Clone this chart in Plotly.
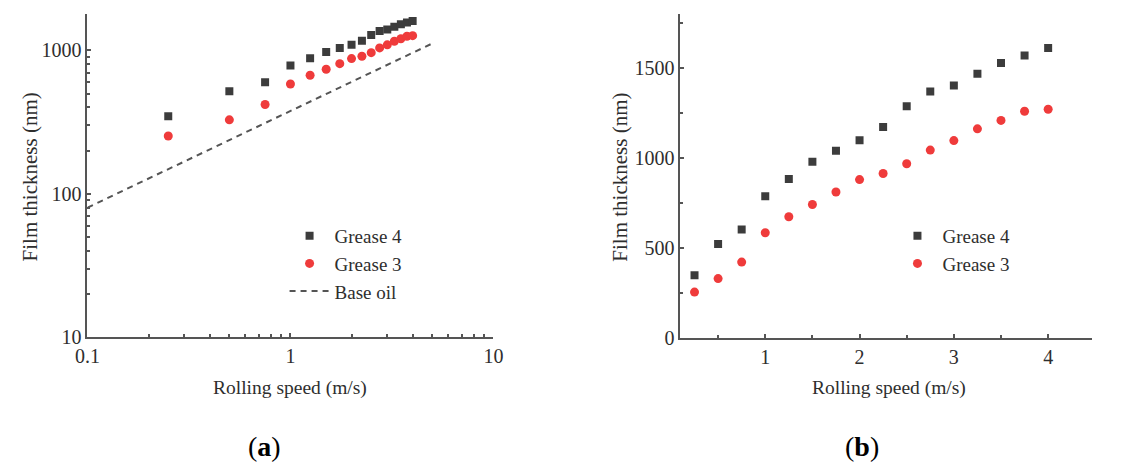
import plotly.graph_objects as go

W, H = 1126, 473

# Rolling speed (m/s)
speed = [0.25, 0.5, 0.75, 1.0, 1.25, 1.5, 1.75, 2.0, 2.25, 2.5, 2.75, 3.0, 3.25, 3.5, 3.75, 4.0]
# Film thickness (nm)
grease4 = [347, 520, 601, 785, 882, 977, 1039, 1097, 1171, 1285, 1368, 1401, 1466, 1526, 1567, 1609]
grease3 = [253, 328, 420, 583, 672, 740, 809, 878, 912, 966, 1042, 1095, 1160, 1207, 1258, 1269]
# Base oil reference line (log-log)
base_speed = [0.1, 5.0]
base_film = [80, 1120]

FONT = "Liberation Serif"
TXT = "#2e2e2e"
AX = "#555555"
SQ = "#3c3c3c"
RED = "#ef3b3b"


def px_x(p):
    return p / W


def px_y(p):
    return 1 - p / H


fig = go.Figure()

# (a) log-log panel
fig.add_trace(go.Scatter(x=speed, y=grease4, mode="markers", name="Grease 4",
                         marker=dict(symbol="square", size=8, color=SQ),
                         xaxis="x", yaxis="y", legend="legend"))
fig.add_trace(go.Scatter(x=speed, y=grease3, mode="markers", name="Grease 3",
                         marker=dict(symbol="circle", size=9, color=RED),
                         xaxis="x", yaxis="y", legend="legend"))
fig.add_trace(go.Scatter(x=base_speed, y=base_film, mode="lines", name="Base oil",
                         line=dict(color="#555555", width=2, dash="6px,5px"),
                         xaxis="x", yaxis="y", legend="legend"))

# (b) linear panel
fig.add_trace(go.Scatter(x=speed, y=grease4, mode="markers", name="Grease 4",
                         marker=dict(symbol="square", size=8, color=SQ),
                         xaxis="x2", yaxis="y2", legend="legend2"))
fig.add_trace(go.Scatter(x=speed, y=grease3, mode="markers", name="Grease 3",
                         marker=dict(symbol="circle", size=9, color=RED),
                         xaxis="x2", yaxis="y2", legend="legend2"))

axis_common = dict(showgrid=False, zeroline=False, showline=True, linecolor=AX, linewidth=2,
                   ticks="inside", ticklen=4, tickwidth=1.5, tickcolor=AX,
                   tickfont=dict(family=FONT, size=20, color=TXT), mirror=False)

fig.update_layout(
    width=W, height=H,
    margin=dict(l=0, r=0, t=0, b=0),
    paper_bgcolor="white", plot_bgcolor="white",
    xaxis=dict(axis_common, type="log", range=[-1, 1],
               domain=[px_x(77), px_x(491)], anchor="y",
               tickvals=[0.1, 1, 10], ticktext=["0.1", "1", "10"],
               minor=dict(ticks="inside", ticklen=3, tickcolor=AX, dtick="D1", showgrid=False)),
    yaxis=dict(axis_common, type="log", range=[1, 3.257],
               domain=[px_y(345), px_y(14)], anchor="x",
               tickvals=[10, 100, 1000], ticktext=["10", "100", "1000"],
               minor=dict(ticks="inside", ticklen=3, tickcolor=AX, dtick="D1", showgrid=False)),
    xaxis2=dict(axis_common, range=[0.1, 4.47],
                domain=[px_x(681.7), px_x(1102)], anchor="y2",
                tickvals=[1, 2, 3, 4],
                minor=dict(ticks="inside", ticklen=3, tickcolor=AX, tickvals=[0.5, 1.5, 2.5, 3.5], showgrid=False)),
    yaxis2=dict(axis_common, range=[0, 1800],
                domain=[px_y(345.7), px_y(14)], anchor="x2",
                tickvals=[0, 500, 1000, 1500],
                minor=dict(ticks="inside", ticklen=3, tickcolor=AX, tickvals=[250, 750, 1250, 1750], showgrid=False)),
    legend=dict(x=px_x(278), y=px_y(222), xanchor="left", yanchor="top",
                bgcolor="rgba(0,0,0,0)", itemwidth=40,
                font=dict(family=FONT, size=19, color=TXT)),
    legend2=dict(x=px_x(898), y=px_y(222), xanchor="left", yanchor="top",
                 bgcolor="rgba(0,0,0,0)", itemwidth=40,
                 font=dict(family=FONT, size=19, color=TXT)),
)

annots = [
    dict(text="Film thickness (nm)", x=px_x(18), y=px_y(181), textangle=-90, size=21),
    dict(text="Film thickness (nm)", x=px_x(620), y=px_y(181), textangle=-90, size=21),
    dict(text="Rolling speed (m/s)", x=px_x(284), y=px_y(397), textangle=0, size=19.5),
    dict(text="Rolling speed (m/s)", x=px_x(894), y=px_y(397), textangle=0, size=19.5),
]
for a in annots:
    fig.add_annotation(text=a["text"], x=a["x"], y=a["y"], textangle=a["textangle"],
                       xref="paper", yref="paper", showarrow=False,
                       xanchor="center", yanchor="middle",
                       font=dict(family=FONT, size=a["size"], color=TXT))

for lbl, cx in [("a", 258), ("b", 867)]:
    fig.add_annotation(text=f"(<b>{lbl}</b>)", xref="paper", yref="paper",
                       x=px_x(cx), y=px_y(457), showarrow=False,
                       xanchor="center", yanchor="middle",
                       font=dict(family=FONT, size=28, color="#000000"))

fig.write_html("out.html")
